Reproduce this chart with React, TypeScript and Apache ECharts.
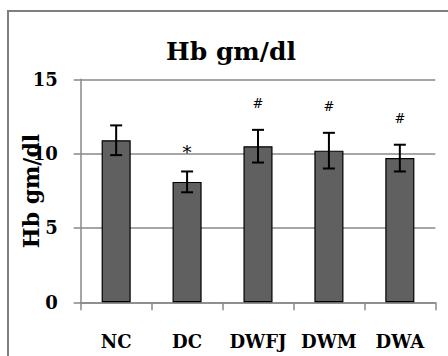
import React, { useEffect, useRef } from "react";
import * as echarts from "echarts";

const categories = ["NC", "DC", "DWFJ", "DWM", "DWA"];
const means = [10.9, 8.1, 10.5, 10.2, 9.7];
const errors = [1.0, 0.7, 1.1, 1.2, 0.9];
const marks = ["", "*", "#", "#", "#"];
const yMin = 0;
const yMax = 15;
const yStep = 5;
const titleText = "Hb gm/dl";
const yName = "Hb gm/dl";

const FONT = '"DejaVu Serif", serif';

export default function App() {
  const ref = useRef<HTMLDivElement>(null);
  useEffect(() => {
    if (!ref.current) return;
    const chart = echarts.init(ref.current, null, { renderer: "svg" });
    const errData = categories.map((c, i) => [i, means[i] - errors[i], means[i] + errors[i]]);
    chart.setOption({
      animation: false,
      backgroundColor: "#fff",
      grid: { left: 80.7, right: 12.7, top: 79.3, bottom: 53.7, containLabel: false },
      xAxis: {
        type: "category",
        data: categories,
        boundaryGap: true,
        axisLine: { show: true, lineStyle: { color: "#888", width: 1.5 } },
        axisTick: { show: true, length: 8, lineStyle: { color: "#888", width: 1.5 } },
        axisLabel: {
          interval: 0,
          color: "#000",
          fontFamily: FONT,
          fontWeight: "bold",
          fontSize: 18,
          margin: 30,
        },
      },
      yAxis: {
        type: "value",
        min: yMin,
        max: yMax,
        interval: yStep,
        axisLine: { show: true, lineStyle: { color: "#888", width: 1.5 } },
        axisTick: { show: true, length: 7, lineStyle: { color: "#888", width: 1.5 } },
        splitLine: { show: true, lineStyle: { color: "#888", width: 1.5 } },
        axisLabel: {
          color: "#000",
          fontFamily: FONT,
          fontWeight: "bold",
          fontSize: 18,
          margin: 23,
        },
      },
      graphic: [
        {
          type: "rect",
          shape: { x: 8, y: 11, width: 500, height: 400 },
          style: { fill: "none", stroke: "#7f7f7f", lineWidth: 2 },
          z: 100,
        },
        {
          type: "text",
          x: 231,
          y: 51,
          style: {
            text: titleText,
            align: "center",
            verticalAlign: "middle",
            fontFamily: FONT,
            fontWeight: "bold",
            fontSize: 25,
            fill: "#000",
          },
        },
        {
          type: "text",
          x: 31,
          y: 191,
          rotation: Math.PI / 2,
          style: {
            text: yName,
            align: "center",
            verticalAlign: "middle",
            fontFamily: FONT,
            fontWeight: "bold",
            fontSize: 22,
            fill: "#000",
          },
          z: 50,
        },
      ],
      series: [
        {
          type: "bar",
          data: means,
          barWidth: "41%",
          itemStyle: { color: "#606060", borderColor: "#000", borderWidth: 1.2 },
          z: 2,
        },
        {
          type: "custom",
          data: errData,
          z: 5,
          renderItem: (params: any, api: any) => {
            const x = api.value(0);
            const lo = api.coord([x, api.value(1)]);
            const hi = api.coord([x, api.value(2)]);
            const half = 6;
            const mark = marks[params.dataIndex];
            const children: any[] = [
              { type: "line", shape: { x1: hi[0], y1: hi[1], x2: lo[0], y2: lo[1] }, style: { stroke: "#000", lineWidth: 2 } },
              { type: "line", shape: { x1: hi[0] - half, y1: hi[1], x2: hi[0] + half, y2: hi[1] }, style: { stroke: "#000", lineWidth: 2 } },
              { type: "line", shape: { x1: lo[0] - half, y1: lo[1], x2: lo[0] + half, y2: lo[1] }, style: { stroke: "#000", lineWidth: 2 } },
            ];
            if (mark) {
              const star = mark === "*";
              children.push({
                type: "text",
                style: {
                  text: mark,
                  x: hi[0],
                  y: hi[1] - (star ? 10 : 20),
                  align: "center",
                  verticalAlign: "bottom",
                  fontFamily: FONT,
                  fontSize: star ? 18 : 13,
                  fill: "#000",
                },
              });
            }
            return { type: "group", children };
          },
        },
      ],
    });
    return () => chart.dispose();
  }, []);
  return (
    <div
      ref={ref}
      style={{ position: "fixed", left: 0, top: 0, width: 448, height: 356 }}
    />
  );
}
